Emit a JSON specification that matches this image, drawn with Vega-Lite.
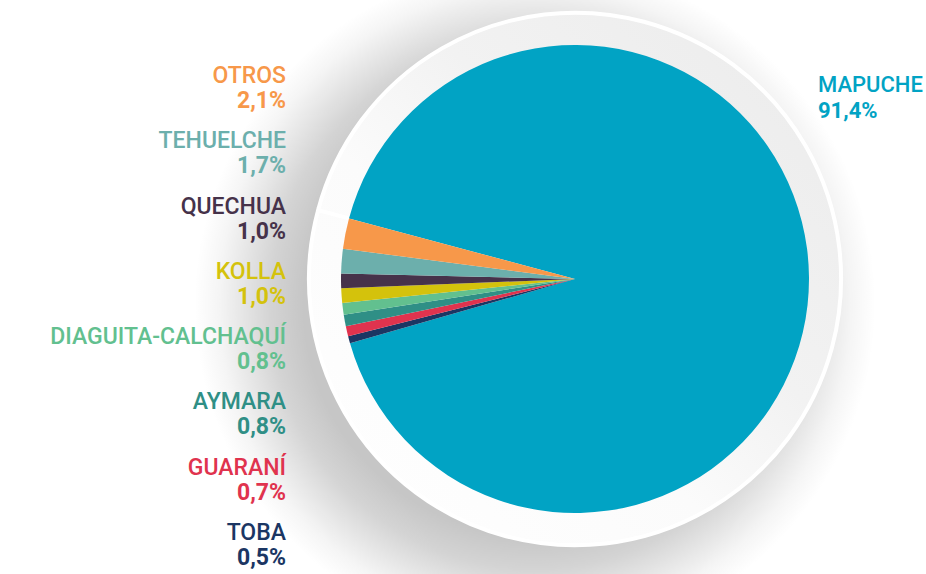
{
  "$schema": "https://vega.github.io/schema/vega-lite/v6.json",
  "autosize": {"type": "none"},
  "padding": {"left": 224, "top": 0, "right": 0, "bottom": 16},
  "width": 702,
  "height": 558,
  "background": "#ffffff",
  "config": {"view": {"stroke": null}},
  "data": {
    "values": [
      {"grupo": "MAPUCHE", "valor": 91.4},
      {"grupo": "TOBA", "valor": 0.5},
      {"grupo": "GUARANÍ", "valor": 0.7},
      {"grupo": "AYMARA", "valor": 0.8},
      {"grupo": "DIAGUITA-CALCHAQUÍ", "valor": 0.8},
      {"grupo": "KOLLA", "valor": 1.0},
      {"grupo": "QUECHUA", "valor": 1.0},
      {"grupo": "TEHUELCHE", "valor": 1.7},
      {"grupo": "OTROS", "valor": 2.1}
    ]
  },
  "transform": [
    {"window": [{"op": "row_number", "as": "idx"}]},
    {"calculate": "replace(format(datum.valor, '.1f'), '.', ',') + '%'", "as": "etiqueta"}
  ],
  "layer": [
    {
      "transform": [{"aggregate": [{"op": "sum", "field": "valor", "as": "total"}]}],
      "mark": {
        "type": "arc",
        "radius": 395,
        "fill": {
          "gradient": "radial",
          "x1": 0.4494, "y1": 0.5316, "r1": 0,
          "x2": 0.4494, "y2": 0.5316, "r2": 0.4304,
          "stops": [
            {"offset": 0, "color": "#c0c0c0"},
            {"offset": 0.68, "color": "#c6c6c6"},
            {"offset": 0.78, "color": "#d4d4d4"},
            {"offset": 0.87, "color": "#e8e8e8"},
            {"offset": 0.93, "color": "#f5f5f5"},
            {"offset": 1, "color": "#ffffff"}
          ]
        }
      },
      "encoding": {
        "theta": {"field": "total", "type": "quantitative"}
      }
    },
    {
      "transform": [{"aggregate": [{"op": "sum", "field": "valor", "as": "total"}]}],
      "mark": {
        "type": "arc",
        "radius": 266,
        "stroke": "#ffffff",
        "strokeWidth": 4,
        "fill": {
          "gradient": "linear",
          "x1": 1, "y1": 0, "x2": 0, "y2": 1,
          "stops": [
            {"offset": 0, "color": "#ebebeb"},
            {"offset": 0.4, "color": "#f2f2f2"},
            {"offset": 0.6, "color": "#fbfbfb"},
            {"offset": 1, "color": "#ffffff"}
          ]
        }
      },
      "encoding": {
        "theta": {"field": "total", "type": "quantitative"}
      }
    },
    {
      "mark": {"type": "arc", "radius": 234},
      "encoding": {
        "theta": {
          "field": "valor",
          "type": "quantitative",
          "stack": true,
          "scale": {"range": [4.974188, 11.257373]}
        },
        "order": {"field": "idx", "type": "quantitative"},
        "color": {
          "field": "grupo",
          "type": "nominal",
          "legend": null,
          "scale": {
            "domain": ["MAPUCHE", "TOBA", "GUARANÍ", "AYMARA", "DIAGUITA-CALCHAQUÍ", "KOLLA", "QUECHUA", "TEHUELCHE", "OTROS"],
            "range": ["#01a3c4", "#1b3663", "#e0334e", "#2f8f86", "#62c08f", "#d4c20c", "#46324a", "#6cafac", "#f7984a"]
          }
        }
      }
    },
    {
      "transform": [{"filter": "datum.grupo != 'MAPUCHE'"}],
      "mark": {"type": "text", "align": "right", "baseline": "alphabetic", "font": "Roboto", "fontSize": 23, "fontWeight": 500},
      "encoding": {
        "x": {"value": 62},
        "y": {
          "field": "grupo",
          "type": "nominal",
          "axis": null,
          "scale": {
            "type": "point",
            "padding": 0,
            "domain": ["OTROS", "TEHUELCHE", "QUECHUA", "KOLLA", "DIAGUITA-CALCHAQUÍ", "AYMARA", "GUARANÍ", "TOBA"],
            "range": [83, 540]
          }
        },
        "text": {"field": "grupo"},
        "color": {"field": "grupo", "type": "nominal", "legend": null}
      }
    },
    {
      "transform": [{"filter": "datum.grupo != 'MAPUCHE'"}],
      "mark": {"type": "text", "align": "right", "baseline": "alphabetic", "font": "Roboto", "fontSize": 23, "fontWeight": "bold", "dy": 25},
      "encoding": {
        "x": {"value": 62},
        "y": {"field": "grupo", "type": "nominal", "axis": null},
        "text": {"field": "etiqueta"},
        "color": {"field": "grupo", "type": "nominal", "legend": null}
      }
    },
    {
      "transform": [{"filter": "datum.grupo == 'MAPUCHE'"}],
      "mark": {"type": "text", "align": "left", "baseline": "alphabetic", "font": "Roboto", "fontSize": 22, "fontWeight": 500, "dy": 9},
      "encoding": {
        "x": {"value": 594},
        "y": {"datum": "OTROS", "type": "nominal", "axis": null},
        "text": {"field": "grupo"},
        "color": {"field": "grupo", "type": "nominal", "legend": null}
      }
    },
    {
      "transform": [{"filter": "datum.grupo == 'MAPUCHE'"}],
      "mark": {"type": "text", "align": "left", "baseline": "alphabetic", "font": "Roboto", "fontSize": 22, "fontWeight": "bold", "dy": 35},
      "encoding": {
        "x": {"value": 594},
        "y": {"datum": "OTROS", "type": "nominal", "axis": null},
        "text": {"field": "etiqueta"},
        "color": {"field": "grupo", "type": "nominal", "legend": null}
      }
    }
  ]
}
